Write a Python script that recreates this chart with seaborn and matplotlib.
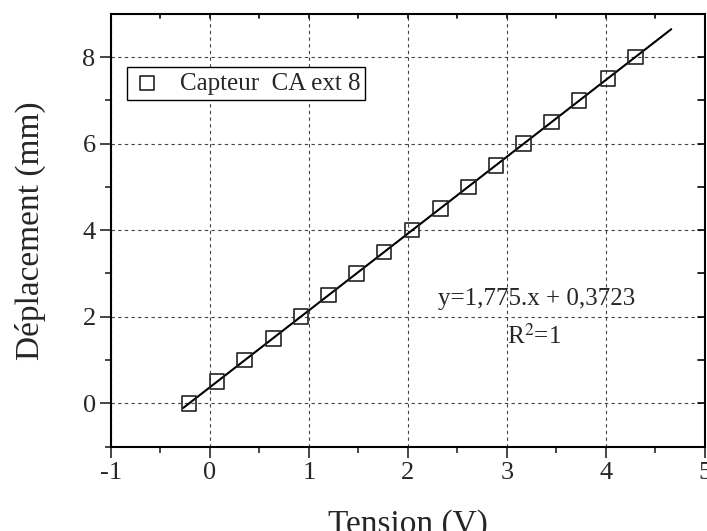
import matplotlib
matplotlib.use("Agg")
import matplotlib.pyplot as plt
import seaborn as sns
import pandas as pd

tension = [-0.21, 0.07, 0.35, 0.64, 0.92, 1.20, 1.48, 1.76, 2.04,
           2.33, 2.61, 2.89, 3.17, 3.45, 3.73, 4.02, 4.30]
deplacement = [0, 0.5, 1, 1.5, 2, 2.5, 3, 3.5, 4,
               4.5, 5, 5.5, 6, 6.5, 7, 7.5, 8]

# fitted line end points
fit_x = [-0.27, 4.66]
fit_y = [-0.107, 8.644]

sns.set_style("ticks")
plt.rcParams['font.family'] = ['Liberation Serif', 'DejaVu Serif']
plt.rcParams['mathtext.fontset'] = 'stix'

df = pd.DataFrame({"Tension": tension, "Deplacement": deplacement})
fit = pd.DataFrame({"x": fit_x, "y": fit_y})

fig = plt.figure(figsize=(7.07, 5.31), dpi=100)
ax = fig.add_axes([0.157, 0.159, 0.84, 0.815])

sns.lineplot(data=fit, x="x", y="y", color="black", lw=1.5, ax=ax, zorder=3)
sns.scatterplot(data=df, x="Tension", y="Deplacement", marker="s", s=110,
                facecolor="none", edgecolor="#222222", linewidth=1.2,
                label="Capteur  CA ext 8", ax=ax, zorder=4)

ax.set_xlim(-1, 5)
ax.set_ylim(-1, 9)
ax.set_xticks(range(-1, 6))
ax.set_xticklabels(["-1", "0", "1", "2", "3", "4", "5"])
ax.set_yticks([0, 2, 4, 6, 8])
ax.set_xticks([x + 0.5 for x in range(-1, 5)], minor=True)
ax.set_yticks([-1, 1, 3, 5, 7], minor=True)

ax.grid(True, which="major", color="#444444", linestyle=(0, (3, 3)), linewidth=0.8)
ax.tick_params(which="major", direction="out", length=8, width=1.2, labelsize=19,
               top=False, right=False)
ax.tick_params(which="minor", direction="out", length=4, width=1.2,
               top=False, right=False)
ax.tick_params(axis="x", pad=3)
ax.tick_params(axis="y", pad=3)

# inward ticks on the top and right spines
for tx in [x * 0.5 for x in range(-2, 11)]:
    ax.plot([tx, tx], [9, 8.9], color="black", lw=1.2, clip_on=False)
for ty in range(-1, 10):
    ax.plot([5, 4.93], [ty, ty], color="black", lw=1.2, clip_on=False)

for sp in ax.spines.values():
    sp.set_linewidth(1.5)
    sp.set_color("black")

ax.set_xlabel("Tension (V)", fontsize=24, labelpad=18)
ax.set_ylabel("Déplacement (mm)", fontsize=24, labelpad=26)

ax.text(3.3, 2.4, "y=1,775.x + 0,3723", fontsize=18, ha="center", va="center")
ax.text(3.27, 1.55, r"R$^2$=1", fontsize=18, ha="center", va="center")

leg = ax.legend(loc="upper left", bbox_to_anchor=(0.027, 0.877), fontsize=18,
                fancybox=False, framealpha=1, edgecolor="black",
                handletextpad=0.7, borderpad=0.2, handlelength=1.2,
                borderaxespad=0.0)
leg.get_frame().set_linewidth(1.0)

fig.savefig("out.png", dpi=100)
